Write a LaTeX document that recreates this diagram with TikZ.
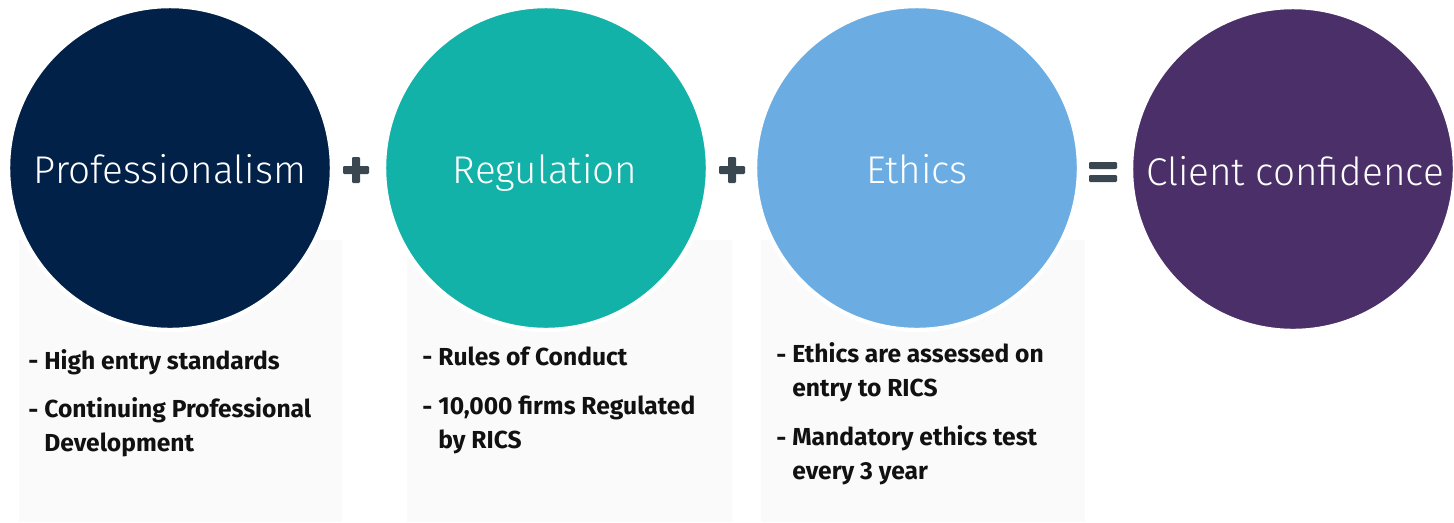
\documentclass[tikz,border=0pt]{standalone}
\usepackage{fontspec}
\setmainfont{Fira Sans}
\newfontfamily\lightfont{Fira Sans Light}
\usetikzlibrary{calc}
\definecolor{profblue}{RGB}{2,33,72}
\definecolor{regteal}{RGB}{18,178,169}
\definecolor{ethblue}{RGB}{107,173,227}
\definecolor{clientpurple}{RGB}{75,47,104}
\definecolor{opgray}{RGB}{58,71,80}
\definecolor{panelgray}{RGB}{250,250,250}
\definecolor{itemblack}{RGB}{17,17,17}
\tikzset{
  bigcircle/.style={circle, draw=white, line width=2.5pt, minimum size=6.48cm,
    inner sep=0pt},
  bigtext/.style={anchor=base, text=white, inner sep=0pt,
    font={\lightfont\fontsize{22}{27}\selectfont}},
  panel/.style={fill=panelgray, draw=none},
  item/.style={inner sep=0pt, text=itemblack, align=left,
    font={\fontsize{14}{18.8}\selectfont\bfseries}},
  opbar/.style={fill=opgray, draw=none, rounded corners=0.6pt}
}
\begin{document}
\begin{tikzpicture}[x=0.02cm,y=-0.02cm]
  \useasboundingbox (0,0) rectangle (1454,522);
  % panels behind the lists
  \fill[panel] (19,240) rectangle (342,522);
  \fill[panel] (407,240) rectangle (732,522);
  \fill[panel] (761,240) rectangle (1085,522);
  % the four circles
  \node[bigcircle, fill=profblue] (prof) at (170,168) {};
  \node[bigcircle, fill=regteal] (reg) at (546,168) {};
  \node[bigcircle, fill=ethblue] (eth) at (917,168) {};
  \node[bigcircle, fill=clientpurple] (client) at (1293,169) {};
  \node[bigtext] (proflabel) at (170,183) {Professionalism};
  \node[bigtext] (reglabel) at (545,183) {Regulation};
  \node[bigtext] (ethlabel) at (917,183) {Ethics};
  \node[bigtext] (clientlabel) at (1295,185) {Client confidence};
  % plus, plus, equals
  \foreach \cx in {356,732}{
    \fill[opbar] (\cx-13,166) rectangle (\cx+13,174);
    \fill[opbar] (\cx-4,157) rectangle (\cx+4,183);
  }
  \fill[opbar] (1089,162) rectangle (1117,169);
  \fill[opbar] (1089,175) rectangle (1117,182);
  % lists (a node with two lines sits on its last baseline)
  \node[item, anchor=base west] (d1) at (28,369) {-};
  \node[item, anchor=base west] (p1) at (44,369) {High entry standards};
  \node[item, anchor=base west] (d2) at (28,418) {-};
  \node[item, anchor=base west] (p2) at (44,451) {Continuing Professional\\Development};
  \node[item, anchor=base west] (d3) at (422,365) {-};
  \node[item, anchor=base west] (r1) at (438,365) {Rules of Conduct};
  \node[item, anchor=base west] (d4) at (422,415) {-};
  \node[item, anchor=base west] (r2) at (438,448) {10,000 firms Regulated\\by RICS};
  \node[item, anchor=base west] (d5) at (776,363) {-};
  \node[item, anchor=base west] (e1) at (792,396) {Ethics are assessed on\\entry to RICS};
  \node[item, anchor=base west] (d6) at (776,446) {-};
  \node[item, anchor=base west] (e2) at (792,479) {Mandatory ethics test\\every 3 year};
\end{tikzpicture}
\end{document}
